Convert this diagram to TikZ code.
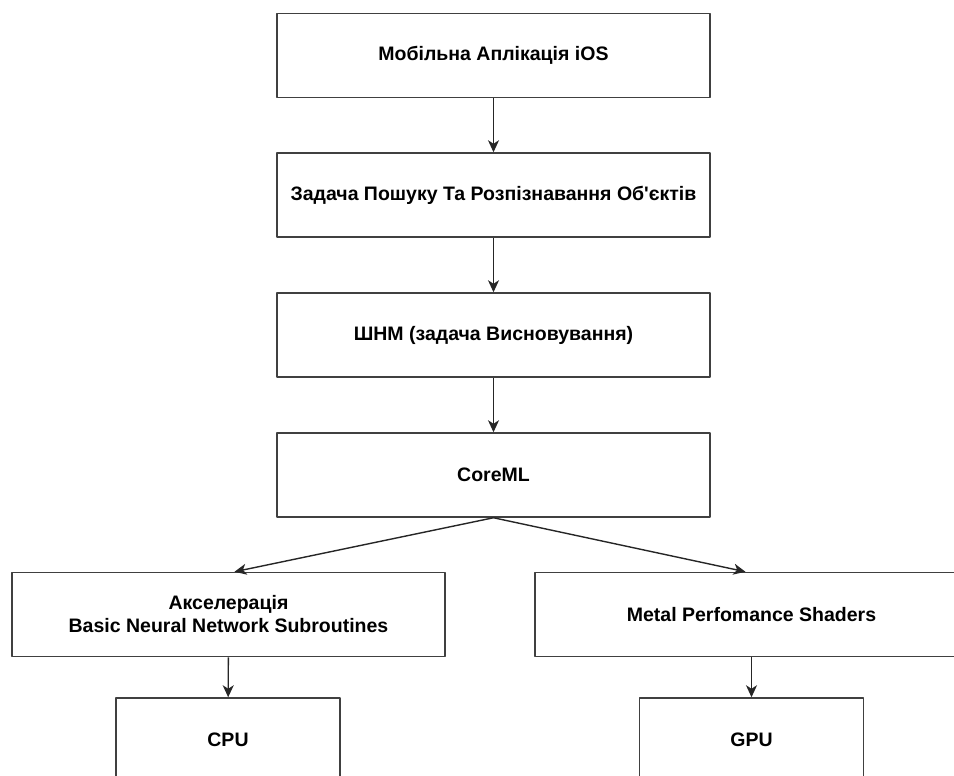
\documentclass[tikz,border=0pt]{standalone}
\usepackage{fontspec}
\setmainfont{Liberation Sans}[Ligatures=TeXOff]
\usetikzlibrary{arrows.meta}
\begin{document}
\begin{tikzpicture}[x=1pt, y=-1pt, line join=round, >={Stealth[length=12pt,width=11pt,inset=3.5pt]}]

	% styles of the boxes and arrows
	\tikzset{
		blok/.style={draw=black!75, line width=1.5pt, fill=white, inner sep=0pt,
			minimum width=433pt, minimum height=84pt, align=center,
			font=\bfseries\fontsize{19.5}{23}\selectfont},
		malyj/.style={blok, minimum width=224pt},
		strilka/.style={->, line width=1.4pt, draw=black!85}
	}

	% page frame (the boxes at the bottom and right are cut off)
	\useasboundingbox (0,0) rectangle (954,776);
	\clip (0,0) rectangle (954,776);

	% ----------------------------------------------------
	% main column
	% ----------------------------------------------------
	\node[blok] (app)  at (493.5,55.5) {Мобільна Аплікація iOS};
	\node[blok] (task) at (493.5,195)  {Задача Пошуку Та Розпізнавання Об'єктів};
	\node[blok] (shnm) at (493.5,335)  {ШНМ (задача Висновування)};
	\node[blok] (core) at (493.5,475)  {CoreML};

	% ----------------------------------------------------
	% two branches
	% ----------------------------------------------------
	\node[blok] (bnns) at (228.5,614.5) {Акселерація\\Basic Neural Network Subroutines};
	\node[blok] (mps)  at (751.5,614.5) {Metal Perfomance Shaders};
	\node[malyj] (cpu) at (228,740)   {CPU};
	\node[malyj] (gpu) at (751.5,740) {GPU};

	% arrows
	\draw[strilka] (app) -- (task);
	\draw[strilka] (task) -- (shnm);
	\draw[strilka] (shnm) -- (core);
	\draw[strilka] (core.south) -- ([xshift=6pt]bnns.north);
	\draw[strilka] (core.south) -- ([xshift=-6pt]mps.north);
	\draw[strilka] (bnns) -- (cpu);
	\draw[strilka] (mps) -- (gpu);

\end{tikzpicture}
\end{document}
